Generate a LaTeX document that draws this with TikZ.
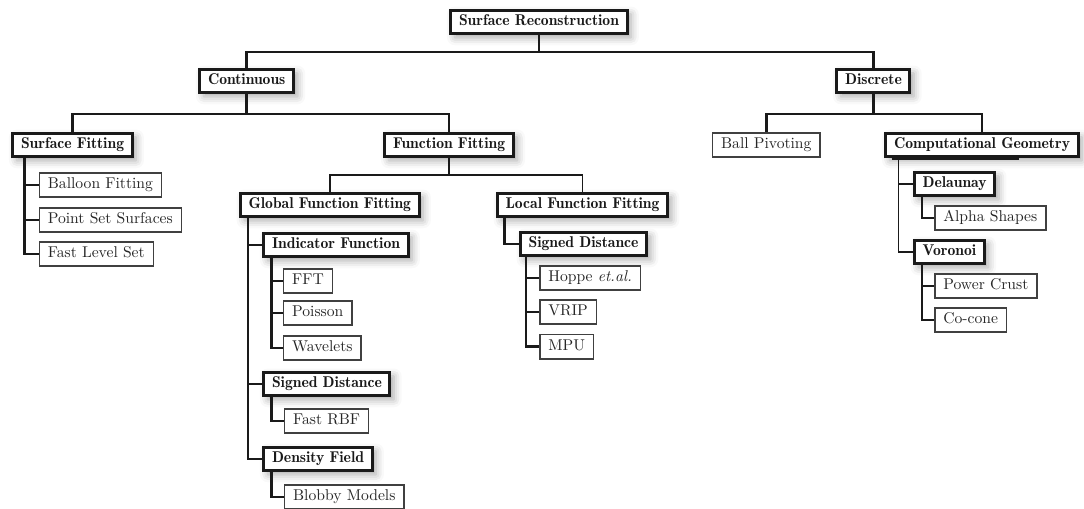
\documentclass[tikz,border=0pt]{standalone}
\usepackage{fontspec}
\usetikzlibrary{shadows.blur}
\newfontfamily\demifont{lmromandemi10-regular.otf}
\definecolor{linkgrey}{HTML}{1A1A1A}
\definecolor{leafgrey}{HTML}{404040}
\definecolor{textgrey}{HTML}{262626}
\tikzset{
  every picture/.style={line width=1pt},
  cat/.style={draw=linkgrey, line width=1.9pt, fill=white, font=\demifont, text=black!90,
    inner xsep=5.2pt, inner ysep=0pt, minimum height=14.8pt, text height=7pt, text depth=2.2pt, anchor=west,
    blur shadow={shadow xshift=2.5pt, shadow yshift=-2.5pt, shadow blur radius=5pt, shadow opacity=35}},
  leaf/.style={draw=leafgrey, line width=1pt, fill=white, text=textgrey,
    inner xsep=5.5pt, inner ysep=0pt, minimum height=15.7pt, text height=7pt, text depth=2.2pt, anchor=west},
  link/.style={draw=linkgrey, line width=1.7pt},
  thinlink/.style={draw=linkgrey, line width=1pt},
}

\begin{document}
\begin{tikzpicture}[x=0.64pt, y=-0.64pt]
  \useasboundingbox (0,0) rectangle (1084,509);

  % top levels
  \node[cat] (sr) at (449.4,22) {Surface Reconstruction};
  \node[cat] (cont) at (198.4,81) {Continuous};
  \node[cat] (disc) at (835.4,81) {Discrete};
  \draw[link] (sr.south) -- ++(0,17) -| (cont.north);
  \draw[link] (sr.south) ++(0,17) -| (disc.north);

  % continuous
  \node[cat] (sf) at (11.4,145) {Surface Fitting};
  \node[cat] (ff) at (383.4,145) {Function Fitting};
  \draw[link] (cont.south) -- ++(0,20) -| (sf.north);
  \draw[link] (cont.south) ++(0,20) -| (ff.north);

  \node[leaf] (bf) at (38.5,185) {Balloon Fitting};
  \node[leaf] (pss) at (38.5,220) {Point Set Surfaces};
  \node[leaf] (fls) at (38.5,254) {Fast Level Set};
  \foreach \c in {bf,pss,fls}
    \draw[link] (sf.south west) ++(13,0) |- (\c.west);

  \node[cat] (gff) at (239,205) {Global Function Fitting};
  \node[cat] (lff) at (496,205) {Local Function Fitting};
  \draw[thinlink] (ff.south) -- ++(0,17) -| (gff.north);
  \draw[thinlink] (ff.south) ++(0,17) -| (lff.north);

  % global function fitting
  \node[cat] (ind) at (262.4,245) {Indicator Function};
  \node[cat] (sdg) at (262.4,384) {Signed Distance};
  \node[cat] (den) at (262.4,459) {Density Field};
  \foreach \c in {ind,sdg,den}
    \draw[link] (gff.south west) ++(9,0) |- (\c.west);

  \node[leaf] (fft) at (282.8,281) {FFT};
  \node[leaf] (poi) at (282.8,313) {Poisson};
  \node[leaf] (wav) at (282.8,348) {Wavelets};
  \foreach \c in {fft,poi,wav}
    \draw[link] (ind.south west) ++(9.3,0) |- (\c.west);

  \node[leaf] (rbf) at (283.8,421) {Fast RBF};
  \draw[link] (sdg.south west) ++(9.3,0) |- (rbf.west);
  \node[leaf] (blob) at (283.8,497) {Blobby Models};
  \draw[link] (den.south west) ++(9.3,0) |- (blob.west);

  % local function fitting
  \node[cat] (sdl) at (519,244) {Signed Distance};
  \draw[link] (lff.south west) ++(8.3,0) |- (sdl.west);
  \node[leaf] (hop) at (539,278) {Hoppe \textit{et.al.}};
  \node[leaf] (vrip) at (539,312) {VRIP};
  \node[leaf] (mpu) at (539,346.7) {MPU};
  \foreach \c in {hop,vrip,mpu}
    \draw[link] (sdl.south west) ++(7,0) |- (\c.west);

  % discrete
  \node[leaf] (bp) at (711.8,145) {Ball Pivoting};
  \node[cat] (cg) at (884.4,145) {Computational Geometry};
  \draw[link] (disc.south) -- ++(0,20) -| (bp.north);
  \draw[link] (disc.south) ++(0,20) -| (cg.north);
  \draw[link, line width=2pt] (cg.south west) ++(8,0) -- ++(127,0);

  \node[cat] (del) at (913,184) {Delaunay};
  \node[cat] (vor) at (913,252) {Voronoi};
  \foreach \c in {del,vor}
    \draw[thinlink] (cg.south west) ++(14.3,0) |- (\c.west);

  \node[leaf] (alpha) at (934,218) {Alpha Shapes};
  \draw[link] (del.south west) ++(9,0) |- (alpha.west);
  \node[leaf] (pow) at (934,286) {Power Crust};
  \node[leaf] (coc) at (934,320) {Co-cone};
  \foreach \c in {pow,coc}
    \draw[link] (vor.south west) ++(9,0) |- (\c.west);
\end{tikzpicture}
\end{document}
